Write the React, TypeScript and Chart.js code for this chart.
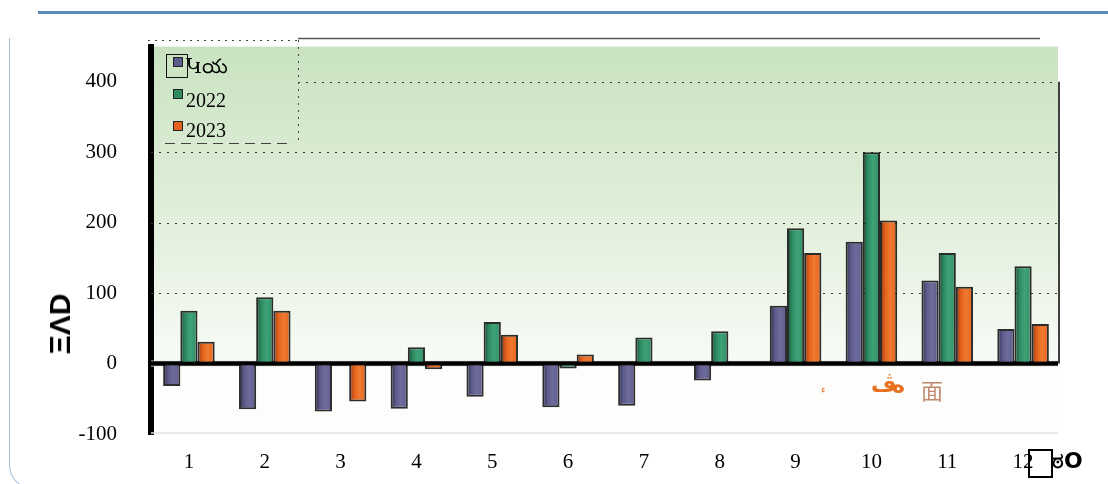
import React, { useEffect, useRef } from "react";
import { Chart, registerables } from "chart.js";

Chart.register(...registerables);

const categories = ["1", "2", "3", "4", "5", "6", "7", "8", "9", "10", "11", "12"];
const seriesNames = ["Կయ", "2022", "2023"];
const seriesA = [-32, -65, -68, -64, -47, -62, -60, -24, 82, 173, 118, 49];
const series2022 = [75, 94, 0, 23, 59, -7, 37, 46, 192, 300, 157, 138];
const series2023 = [31, 75, -54, -8, 41, 13, 0, 0, 157, 203, 109, 56];
const yTickValues = [-100, 0, 100, 200, 300, 400];
const seriesBase = ["#5d5b8b", "#2f8c62", "#e4621c"];
const seriesDark = ["#2b2a44", "#124a32", "#8a3418"];
const seriesLight = ["#6e6c9c", "#3fa277", "#f07a30"];

const Y_MIN = -100;
const Y_MAX = 450;
const CAT_PCT = 0.68;

function barFill(ctx: any, di: number) {
  const chart = ctx.chart;
  const xs = chart.scales && chart.scales.x;
  if (ctx.type !== "data" || !xs || !chart.chartArea) return seriesBase[di];
  const center = xs.getPixelForValue(ctx.dataIndex);
  const cat = xs.width / categories.length;
  const bw = (cat * CAT_PCT) / 3;
  const x0 = center + (di - 1.5) * bw;
  const g = chart.ctx.createLinearGradient(x0, 0, x0 + bw, 0);
  g.addColorStop(0, seriesDark[di]);
  g.addColorStop(0.3, seriesBase[di]);
  g.addColorStop(0.6, seriesLight[di]);
  g.addColorStop(1, seriesBase[di]);
  return g;
}

const bgPlugin = {
  id: "bgPlugin",
  beforeDraw(chart: any) {
    const { ctx, chartArea: a, scales } = chart;
    const y0 = scales.y.getPixelForValue(0);
    ctx.save();
    const g = ctx.createLinearGradient(0, a.top, 0, y0);
    g.addColorStop(0, "#c9e3c1");
    g.addColorStop(0.5, "#dfeed9");
    g.addColorStop(1, "#f8fbf6");
    ctx.fillStyle = g;
    ctx.fillRect(a.left, a.top, a.right - a.left - 3, y0 - a.top);
    ctx.fillStyle = "#fdfdfb";
    ctx.fillRect(a.left, y0, a.right - a.left - 3, a.bottom - y0);
    ctx.restore();
  },
  beforeDatasetsDraw(chart: any) {
    const { ctx, chartArea: a, scales } = chart;
    const ys = scales.y;
    ctx.save();
    ctx.strokeStyle = "#333";
    ctx.lineWidth = 1;
    ctx.setLineDash([2, 6]);
    yTickValues.forEach((v) => {
      if (v <= 0) return;
      const y = Math.round(ys.getPixelForValue(v)) + 0.5;
      const startX = v === 400 ? 298 : a.left;
      ctx.beginPath();
      ctx.moveTo(startX, y);
      ctx.lineTo(a.right - 3, y);
      ctx.stroke();
    });
    ctx.setLineDash([]);
    ctx.strokeStyle = "#e2e2e2";
    ctx.lineWidth = 1.5;
    ctx.beginPath();
    ctx.moveTo(a.left, a.bottom - 1);
    ctx.lineTo(a.right - 3, a.bottom - 1);
    ctx.stroke();
    const y0 = ys.getPixelForValue(0);
    ctx.fillStyle = "#e4e4e4";
    ctx.fillRect(a.left, y0 - 3, a.right - a.left - 3, 6);
    ctx.strokeStyle = "#000";
    ctx.lineWidth = 4.5;
    ctx.beginPath();
    ctx.moveTo(a.left, y0);
    ctx.lineTo(a.right - 3, y0);
    ctx.stroke();
    ctx.restore();
  },
  afterDraw(chart: any) {
    const { ctx, chartArea: a, scales } = chart;
    const ys = scales.y;
    ctx.save();
    ctx.strokeStyle = "#555";
    ctx.lineWidth = 1.5;
    ctx.beginPath();
    ctx.moveTo(298, 38.5);
    ctx.lineTo(1040, 38.5);
    ctx.stroke();
    ctx.strokeStyle = "#444";
    ctx.lineWidth = 1;
    ctx.setLineDash([2, 5]);
    ctx.beginPath();
    ctx.moveTo(148, 40.5);
    ctx.lineTo(298, 40.5);
    ctx.moveTo(298.5, 40);
    ctx.lineTo(298.5, 143);
    ctx.stroke();
    ctx.setLineDash([10, 6]);
    ctx.beginPath();
    ctx.moveTo(165, 143.5);
    ctx.lineTo(292, 143.5);
    ctx.stroke();
    ctx.setLineDash([]);
    ctx.strokeStyle = "#000";
    ctx.lineWidth = 1.5;
    ctx.beginPath();
    ctx.moveTo(a.right - 2, ys.getPixelForValue(400));
    ctx.lineTo(a.right - 2, ys.getPixelForValue(0));
    ctx.stroke();
    ctx.restore();
  },
};

export default function App() {
  const canvasRef = useRef<HTMLCanvasElement | null>(null);

  useEffect(() => {
    const canvas = canvasRef.current;
    if (!canvas) return;
    const allSeries = [seriesA, series2022, series2023];
    const chart = new Chart(canvas, {
      type: "bar",
      data: {
        labels: categories,
        datasets: allSeries.map((data, di) => ({
          label: seriesNames[di],
          data,
          backgroundColor: (ctx: any) => barFill(ctx, di),
          borderColor: "rgba(8,8,8,0.85)",
          borderWidth: 2,
          borderSkipped: false,
          categoryPercentage: CAT_PCT,
          barPercentage: 1,
        })),
      },
      options: {
        responsive: false,
        animation: false,
        events: [],
        layout: { padding: { top: 44, right: 47, left: 0, bottom: 0 } },
        plugins: {
          legend: { display: false },
          tooltip: { enabled: false },
        },
        scales: {
          x: {
            grid: { display: false, drawTicks: false },
            border: { display: false },
            ticks: {
              padding: 16,
              color: "#000",
              font: { family: "'Liberation Serif', 'DejaVu Serif', serif", size: 21 },
            },
            afterFit: (s: any) => {
              s.height = 50;
            },
          },
          y: {
            min: Y_MIN,
            max: Y_MAX,
            grid: { display: false, drawTicks: false },
            border: { display: true, color: "#000", width: 6 },
            afterBuildTicks: (s: any) => {
              s.ticks = yTickValues.map((v) => ({ value: v }));
            },
            ticks: {
              padding: 34,
              color: "#000",
              font: { family: "'Liberation Serif', 'DejaVu Serif', serif", size: 21 },
            },
            afterFit: (s: any) => {
              s.width = 151;
            },
          },
        },
      },
      plugins: [bgPlugin],
    });
    return () => chart.destroy();
  }, []);

  const serif = "'Liberation Serif', 'DejaVu Serif', serif";
  const legendRows = [
    { top: 57, textTop: 54 },
    { top: 89, textTop: 88 },
    { top: 121, textTop: 118 },
  ];

  return (
    <div style={{ position: "absolute", left: 0, top: 0, width: 1108, height: 484, overflow: "hidden", background: "#fff" }}>
      <canvas ref={canvasRef} width={1108} height={484} style={{ position: "absolute", left: 0, top: 0 }} />
      <div style={{ position: "absolute", left: 38, top: 11, width: 1070, height: 2.5, background: "#5a8aba" }} />
      <div
        style={{
          position: "absolute",
          left: 9,
          top: 38,
          width: 30,
          height: 450,
          borderLeft: "1.5px solid #a3bfdd",
          borderBottom: "1.5px solid #a3bfdd",
          borderBottomLeftRadius: 24,
        }}
      />
      <div style={{ position: "absolute", left: 166, top: 54, width: 20, height: 22, border: "1.5px solid #111" }} />
      {legendRows.map((r, i) => (
        <React.Fragment key={i}>
          <div
            style={{
              position: "absolute",
              left: 173,
              top: r.top,
              width: 8,
              height: 8,
              background: seriesBase[i],
              border: "1px solid #222",
            }}
          />
          <div
            style={{
              position: "absolute",
              left: 186,
              top: r.textTop,
              fontFamily: serif,
              fontSize: 20,
              lineHeight: "24px",
              color: "#000",
              whiteSpace: "nowrap",
            }}
          >
            {seriesNames[i]}
          </div>
        </React.Fragment>
      ))}
      <div
        style={{
          position: "absolute",
          left: 60,
          top: 324,
          transform: "translate(-50%, -50%) rotate(-90deg)",
          fontFamily: "'Liberation Sans', 'DejaVu Sans', sans-serif",
          fontWeight: 700,
          fontSize: 30,
          color: "#000",
          whiteSpace: "nowrap",
        }}
      >
        ΞΛD
      </div>
      <span style={{ position: "absolute", left: 821, top: 384, fontSize: 10, color: "#e8701e", fontFamily: "'DejaVu Sans', sans-serif" }}>ء</span>
      <span style={{ position: "absolute", left: 871, top: 372, fontSize: 22, fontWeight: 700, color: "#e8701e", fontFamily: "'DejaVu Sans', sans-serif" }}>ﭪ</span>
      <span style={{ position: "absolute", left: 892, top: 372, fontSize: 22, fontWeight: 700, color: "#e8701e", fontFamily: "'DejaVu Sans', sans-serif" }}>ﻩ</span>
      <span style={{ position: "absolute", left: 921, top: 373, fontSize: 22, color: "#c08a70", fontFamily: "'Noto Sans CJK SC', sans-serif" }}>面</span>
      <div style={{ position: "absolute", left: 1028, top: 449, width: 21, height: 25, border: "2px solid #000" }} />
      <span
        style={{
          position: "absolute",
          left: 1052,
          top: 448,
          fontSize: 22,
          fontWeight: 700,
          color: "#000",
          fontFamily: "'DejaVu Sans', sans-serif",
          whiteSpace: "nowrap",
        }}
      >
        ಠO
      </span>
    </div>
  );
}
